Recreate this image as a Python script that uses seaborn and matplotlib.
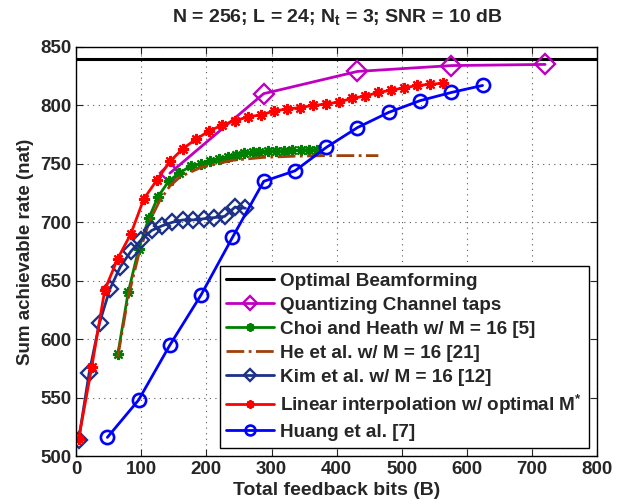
import pandas as pd
import matplotlib
matplotlib.use("Agg")
import matplotlib.pyplot as plt
import seaborn as sns

# -----------------------------
# Data
# -----------------------------
opt_bits = [0, 800]
opt_rate = [840, 840]

quant_bits = [144, 288, 432, 576, 720]
quant_rate = [742, 810, 829, 834, 835]

choi_bits = [64, 80, 96, 112, 126, 142, 158, 176, 192, 205, 220, 233, 246,
             258, 271, 281, 294, 307, 319, 332, 345, 358, 370]
choi_rate = [587, 640, 677, 704, 722, 735, 742, 748, 750, 752, 754, 756, 757.5,
             759, 760, 760.5, 761, 761, 761, 761.5, 761.5, 762, 762]

he_bits = [64, 80, 96, 112, 128, 144, 160, 192, 240, 288, 336, 384, 432, 464]
he_rate = [585, 636, 672, 700, 718, 731, 739, 747, 753, 755.5, 756.5, 757, 757, 757]

kim_bits = [4, 20, 36, 52, 68, 84, 100, 116, 132, 148, 164, 180, 196, 212,
            228, 244, 260]
kim_rate = [514, 571, 614, 643, 662, 675, 685, 693, 697, 700, 702, 702, 703,
            704, 705, 713, 712]

lin_bits = [4, 24, 44, 64, 84, 104, 124, 144, 164, 184, 204, 224, 244, 264,
            284, 304, 324, 344, 364, 384, 404, 424, 444, 464, 484, 504, 524,
            544, 564]
lin_rate = [515, 576, 642, 669, 690, 720, 736, 752, 763, 771, 778, 783, 787,
            790, 792, 795, 797, 798, 800, 801, 803, 806, 808, 811, 813, 815,
            817, 818, 819]

huang_bits = [48, 96, 144, 192, 240, 288, 336, 384, 432, 480, 528, 576, 624]
huang_rate = [516, 548, 595, 638, 687, 735, 744, 764, 781, 794, 804, 811, 817]

# -----------------------------
# Style
# -----------------------------
sns.set_style("ticks")
plt.rcParams['font.family'] = ['Liberation Sans', 'DejaVu Sans']
plt.rcParams['font.weight'] = 'bold'
plt.rcParams['axes.labelweight'] = 'bold'
plt.rcParams['axes.titleweight'] = 'bold'
plt.rcParams['mathtext.fontset'] = 'custom'
plt.rcParams['mathtext.rm'] = 'Liberation Sans:bold'
plt.rcParams['mathtext.bf'] = 'Liberation Sans:bold'
plt.rcParams['mathtext.it'] = 'Liberation Sans:bold'
plt.rcParams['mathtext.default'] = 'bf'

fig = plt.figure(figsize=(6.34, 5.04), dpi=100)
ax = fig.add_axes([0.12, 0.095, 0.822, 0.812])

asterisk = (8, 2, 0)

series = [
    (opt_bits, opt_rate, "Optimal Beamforming",
     dict(color="black", lw=2.2, marker=None)),
    (quant_bits, quant_rate, "Quantizing Channel taps",
     dict(color="#c000c0", lw=2, marker="D", markersize=10,
          markerfacecolor="none", markeredgecolor="#c000c0", markeredgewidth=1.7)),
    (choi_bits, choi_rate, "Choi and Heath w/ M = 16 [5]",
     dict(color="#008000", lw=2, marker=asterisk, markersize=8,
          markerfacecolor="#008000", markeredgecolor="#008000", markeredgewidth=1.6)),
    (he_bits, he_rate, "He et al. w/ M = 16 [21]",
     dict(color="#a0400a", lw=2, marker=None, linestyle="-.", dashes=(5, 2.5, 1, 2.5))),
    (kim_bits, kim_rate, "Kim et al. w/ M = 16 [12]",
     dict(color="#1c3187", lw=2, marker="D", markersize=8.5,
          markerfacecolor="none", markeredgecolor="#1c3187", markeredgewidth=1.7)),
    (lin_bits, lin_rate, r"Linear interpolation w/ optimal M$^{*}$",
     dict(color="#ff0000", lw=2, marker=asterisk, markersize=8,
          markerfacecolor="#ff0000", markeredgecolor="#ff0000", markeredgewidth=1.6)),
    (huang_bits, huang_rate, "Huang et al. [7]",
     dict(color="#0000ff", lw=2, marker="o", markersize=9.5,
          markerfacecolor="none", markeredgecolor="#0000ff", markeredgewidth=1.9)),
]

for bits, rate, name, kw in series:
    df = pd.DataFrame({"bits": bits, "rate": rate})
    sns.lineplot(data=df, x="bits", y="rate", ax=ax, label=name, **kw)

ax.set_xlim(0, 800)
ax.set_ylim(500, 850)
ax.set_xticks(range(0, 801, 100))
ax.set_yticks(range(500, 851, 50))
ax.grid(True, color="0.35", linestyle=(0, (1, 4)), linewidth=0.8)
ax.tick_params(direction="in", top=True, right=True, labelsize=13.5, length=5, width=0.8)
for lbl in ax.get_xticklabels() + ax.get_yticklabels():
    lbl.set_fontweight("bold")
for sp in ax.spines.values():
    sp.set_linewidth(1.0)
    sp.set_color("black")

ax.set_xlabel("Total feedback bits (B)", fontsize=14, labelpad=3)
ax.set_ylabel("Sum achievable rate (nat)", fontsize=13.5, labelpad=4)
ax.set_title(r"N = 256; L = 24; N$_t$ = 3; SNR = 10 dB", fontsize=14, pad=18)

leg = ax.legend(loc="lower right", fontsize=13.6, frameon=True, fancybox=False,
                framealpha=1, edgecolor="black", handlelength=2.55,
                handletextpad=0.3, labelspacing=0.36, borderpad=0.35,
                borderaxespad=0.45, markerscale=0.75)
leg.get_frame().set_linewidth(1.0)

fig.savefig("out.png", dpi=100)
